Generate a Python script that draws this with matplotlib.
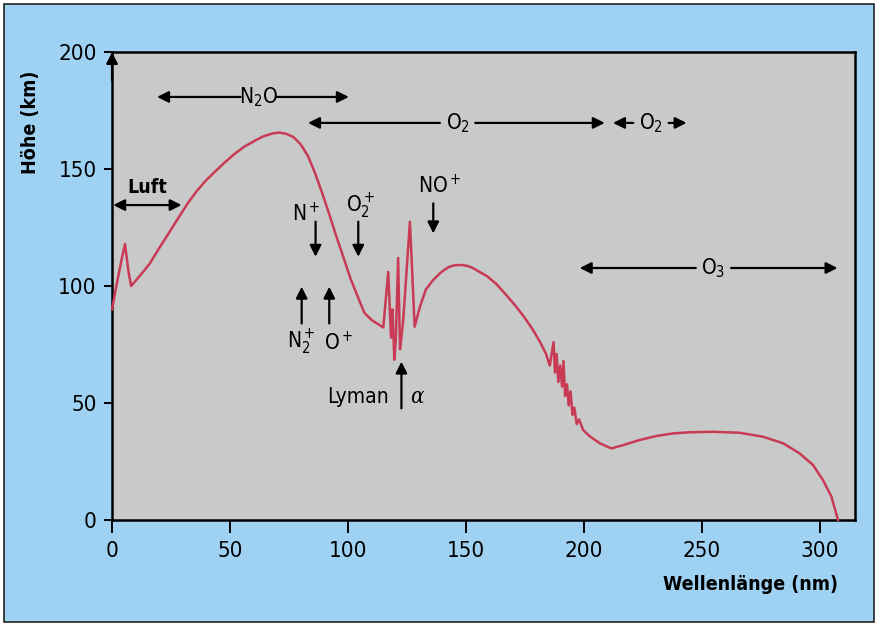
import matplotlib.pyplot as plt
from matplotlib.patches import Rectangle

plt.rcParams['font.family'] = ['DejaVu Sans']
plt.rcParams['font.stretch'] = 'condensed'
plt.rcParams['mathtext.default'] = 'regular'

# absorption depth curve: wavelength (nm) vs height (km)
wavelength = [0, 2, 4, 5.5, 7, 8.1, 12, 16, 20, 24, 28, 32, 36, 40, 44, 48, 52,
              56, 60, 64, 68, 71, 74, 77, 80, 83, 86, 89, 92, 95, 98, 101, 104,
              107, 110, 113, 115,
              117.1, 118.3, 118.9, 119.7, 120.3, 121.3, 122.1, 122.8, 123.5,
              126.3, 128.3,
              130.5, 133, 136, 139, 141, 143, 145, 147, 149, 151, 153, 155, 159,
              163, 167, 171, 175, 178.5, 181.5, 184,
              185.6, 187.2, 187.8, 188.5, 189.2, 190, 190.8, 191.4, 192.1, 192.9,
              193.6, 194.4, 195.2, 196, 197, 198, 199.7,
              202.5, 206.8, 211.7, 216.7, 223.7, 230.8, 237.8, 244.9, 254.8, 266,
              276, 284.5, 291.5, 297.2, 301.4, 305, 307.8]
height = [90, 101, 111, 118, 106, 100, 104.6, 109.6, 116.2, 122.5, 128.9, 135.2,
          140.7, 145.3, 149.2, 153, 156.5, 159.5, 161.8, 163.9, 165.2, 165.6, 165,
          163.6, 160.5, 155.7, 148.5, 140, 131, 121.5, 112.6, 103.5, 95.9,
          88.5, 85.5, 83.6, 82.3,
          106, 78, 90, 68.5, 77, 112, 73, 79, 86,
          127.5, 82.6,
          91, 98.4, 102.4, 105.4, 107, 108.2, 108.8, 109, 108.9, 108.5, 107.7,
          106.5, 104.2, 100.8, 96.3, 91.6, 86.4, 81.2, 76, 71,
          66, 76, 63, 71, 59, 66, 57, 68, 53, 58,
          49, 55, 45, 48, 41, 43, 38.5,
          35.8, 32.8, 30.6, 32, 34.2, 35.9, 37, 37.5, 37.7, 37.3,
          35.6, 32.8, 28.5, 23.5, 17.1, 10, 0]

x_ticks = [0, 50, 100, 150, 200, 250, 300]
y_ticks = [0, 50, 100, 150, 200]

# absorber bands: (label, start, end, level, label position)
bands = [
    (r'N$_2$O', 19.1, 100.4, 180.8, 62),
    (r'O$_2$', 83.1, 208.9, 169.7, 146.5),
    (r'O$_2$', 212.4, 243.6, 169.7, 228.5),
    (r'O$_3$', 198.3, 307.6, 107.7, 255),
]
luft_range = (0.5, 29.5, 134.6)

fig = plt.figure(figsize=(8.78, 6.26), dpi=100, facecolor='white')
fig.patches.append(Rectangle((0.005, 0.006), 0.99, 0.987, transform=fig.transFigure,
                             facecolor='#9fd1f3', edgecolor='#222222', lw=1.2,
                             zorder=-10))

ax = fig.add_axes([0.1276, 0.1693, 0.8462, 0.7476])
ax.set_facecolor('#c8caca')
ax.plot(wavelength, height, color='#c93a55', lw=1.8, clip_on=False, zorder=3)

ax.set_xlim(0, 315)
ax.set_ylim(0, 200)
ax.set_xticks(x_ticks)
ax.set_yticks(y_ticks)
for s in ax.spines.values():
    s.set_linewidth(1.8)
ax.tick_params(axis='x', direction='out', length=9, width=1.4, pad=6, labelsize=16)
ax.tick_params(axis='y', direction='out', length=6, width=1.4, pad=5, labelsize=16)

arrow = dict(arrowstyle='-|>', color='black', lw=1.6, mutation_scale=17,
             shrinkA=0, shrinkB=0)

# upward arrow on the height axis
ax.annotate('', xy=(0, 200), xytext=(0, 188), arrowprops=arrow,
            annotation_clip=False, zorder=5)

for label, x0, x1, y, xt in bands:
    gap = 7.5
    ax.annotate('', xy=(x0, y), xytext=(xt - gap, y), arrowprops=arrow)
    ax.annotate('', xy=(x1, y), xytext=(xt + gap, y), arrowprops=arrow)
    ax.text(xt, y, label, ha='center', va='center', fontsize=15)

lx0, lx1, ly = luft_range
ax.annotate('', xy=(lx0, ly), xytext=(lx1, ly),
            arrowprops=dict(arrow, arrowstyle='<|-|>'))
ax.text((lx0 + lx1) / 2, ly + 3.5, 'Luft', ha='center', va='bottom',
        fontsize=14, fontweight='bold')

# ion markers
ax.text(82.5, 131, r'N$^+$', ha='center', va='center', fontsize=15)
ax.annotate('', xy=(86.3, 112.5), xytext=(86.3, 127.5), arrowprops=arrow)
ax.text(105.5, 134, r'O$_2^+$', ha='center', va='center', fontsize=15)
ax.annotate('', xy=(104.4, 112.5), xytext=(104.4, 127.5), arrowprops=arrow)
ax.text(139, 143, r'NO$^+$', ha='center', va='center', fontsize=15)
ax.annotate('', xy=(136.2, 122.5), xytext=(136.2, 135.3), arrowprops=arrow)

ax.annotate('', xy=(80.4, 99.7), xytext=(80.4, 84), arrowprops=arrow)
ax.text(80, 76, r'N$_2^+$', ha='center', va='center', fontsize=15)
ax.annotate('', xy=(92.1, 99.7), xytext=(92.1, 84), arrowprops=arrow)
ax.text(95.9, 76, r'O$^+$', ha='center', va='center', fontsize=15)

ax.annotate('', xy=(122.7, 67.7), xytext=(122.7, 47.7), arrowprops=arrow)
ax.text(117.5, 52.7, 'Lyman', ha='right', va='center', fontsize=15)
ax.text(126.5, 52.7, 'α', ha='left', va='center', fontsize=16,
        family='DejaVu Serif', style='italic')

fig.text(0.9544, 0.0655, 'Wellenlänge (nm)', ha='right', va='center',
         fontsize=14, fontweight='bold')
fig.text(0.0353, 0.805, 'Höhe (km)', ha='center', va='center', rotation=90,
         fontsize=14, fontweight='bold')

fig.savefig('out.png', dpi=100, facecolor=fig.get_facecolor())
